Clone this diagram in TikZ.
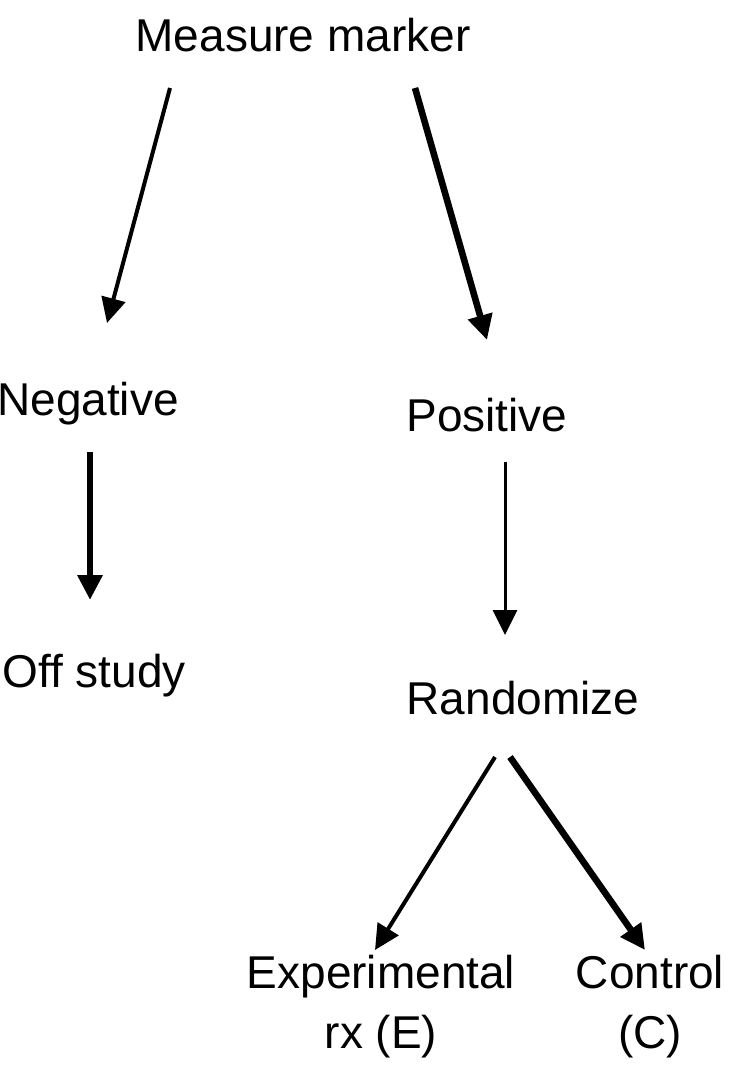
\documentclass[tikz,border=0pt]{standalone}
\usepackage{fontspec}
\setmainfont{Liberation Sans}
\usetikzlibrary{arrows.meta,calc}

\begin{document}
\begin{tikzpicture}[x=0.5pt,y=-0.5pt,
  lbl/.style={inner sep=0pt,font=\fontsize{23}{30}\selectfont},
  arr/.style={-{Triangle[length=12.5pt,width=12pt]},line width=#1},
  arr/.default=2pt]
\useasboundingbox (0,0) rectangle (750,1085);
\node[lbl,anchor=base] (mm) at (303,52) {Measure marker};
\node[lbl,anchor=base] (neg) at (88,415) {Negative};
\node[lbl,anchor=base] (pos) at (487,431) {Positive};
\node[lbl,anchor=base] (off) at (94,687) {Off study};
\node[lbl,anchor=base] (rand) at (523,714) {Randomize};
\node[lbl,anchor=north,align=center] (exp) at (381,955) {Experimental\\rx (E)};
\node[lbl,anchor=north,align=center] (ctl) at (650,955) {Control\\(C)};
\draw[arr=2pt] ($(mm.base)+(-133,36)$) -- ($(neg.base)+(19,-92)$);
\draw[arr=3.3pt] ($(mm.base)+(112,36)$) -- ($(pos.base)+(0,-91)$);
\draw[arr=3.3pt] ($(neg.base)+(2,37)$) -- ($(off.base)+(-4,-87)$);
\draw[arr=1.5pt] ($(pos.base)+(18,31)$) -- ($(rand.base)+(-18,-79)$);
\draw[arr=2pt] ($(rand.base)+(-28,43)$) -- ($(exp.north)+(-6,-5)$);
\draw[arr=3.3pt] ($(rand.base)+(-13,43)$) -- ($(ctl.north)+(-5,-5)$);
\end{tikzpicture}
\end{document}
